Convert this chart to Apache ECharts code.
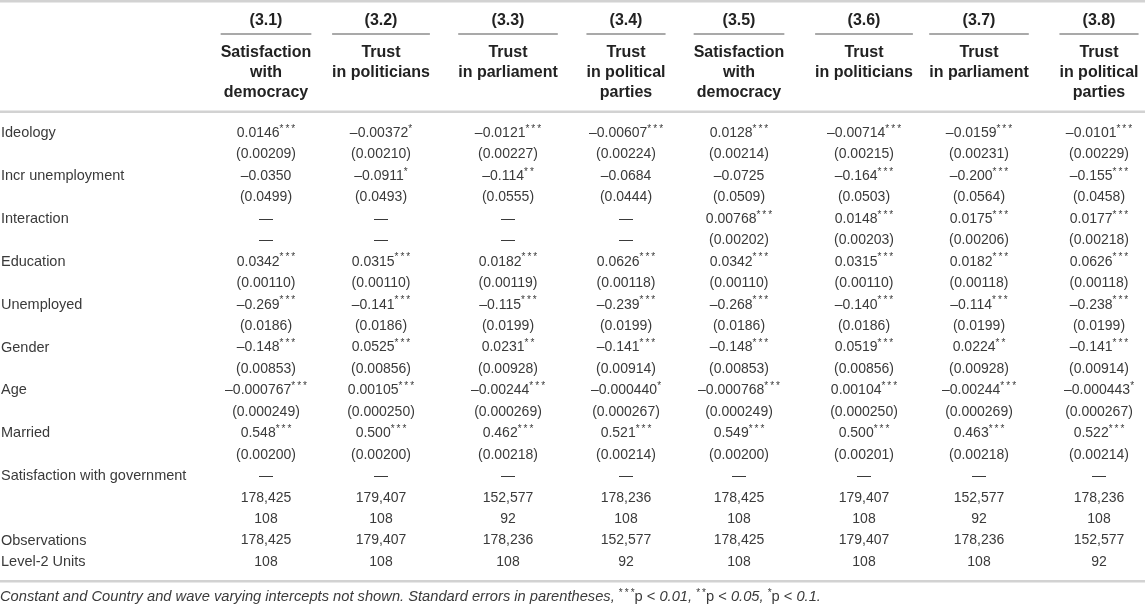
<!DOCTYPE html>
<html><head><meta charset="utf-8">
<script src="https://cdn.jsdelivr.net/npm/echarts@6/dist/echarts.min.js"></script>
<style>html,body{margin:0;padding:0;background:#fff}#c{width:1145px;height:606px}</style>
</head><body><div id="c"></div>
<script>
// ---------- data ----------
const rowLabels = ['Ideology','','Incr unemployment','','Interaction','','Education','','Unemployed','',
  'Gender','','Age','','Married','','Satisfaction with government','','','Observations','Level-2 Units'];
const colNumbers = ['(3.1)','(3.2)','(3.3)','(3.4)','(3.5)','(3.6)','(3.7)','(3.8)'];
const colTitles = ['Satisfaction\nwith\ndemocracy','Trust\nin politicians','Trust\nin parliament','Trust\nin political\nparties',
  'Satisfaction\nwith\ndemocracy','Trust\nin politicians','Trust\nin parliament','Trust\nin political\nparties'];
const m31 = ['0.0146***','(0.00209)','–0.0350','(0.0499)','—','—','0.0342***','(0.00110)','–0.269***','(0.0186)','–0.148***','(0.00853)','–0.000767***','(0.000249)','0.548***','(0.00200)','—','178,425','108','178,425','108'];
const m32 = ['–0.00372*','(0.00210)','–0.0911*','(0.0493)','—','—','0.0315***','(0.00110)','–0.141***','(0.0186)','0.0525***','(0.00856)','0.00105***','(0.000250)','0.500***','(0.00200)','—','179,407','108','179,407','108'];
const m33 = ['–0.0121***','(0.00227)','–0.114**','(0.0555)','—','—','0.0182***','(0.00119)','–0.115***','(0.0199)','0.0231**','(0.00928)','–0.00244***','(0.000269)','0.462***','(0.00218)','—','152,577','92','178,236','108'];
const m34 = ['–0.00607***','(0.00224)','–0.0684','(0.0444)','—','—','0.0626***','(0.00118)','–0.239***','(0.0199)','–0.141***','(0.00914)','–0.000440*','(0.000267)','0.521***','(0.00214)','—','178,236','108','152,577','92'];
const m35 = ['0.0128***','(0.00214)','–0.0725','(0.0509)','0.00768***','(0.00202)','0.0342***','(0.00110)','–0.268***','(0.0186)','–0.148***','(0.00853)','–0.000768***','(0.000249)','0.549***','(0.00200)','—','178,425','108','178,425','108'];
const m36 = ['–0.00714***','(0.00215)','–0.164***','(0.0503)','0.0148***','(0.00203)','0.0315***','(0.00110)','–0.140***','(0.0186)','0.0519***','(0.00856)','0.00104***','(0.000250)','0.500***','(0.00201)','—','179,407','108','179,407','108'];
const m37 = ['–0.0159***','(0.00231)','–0.200***','(0.0564)','0.0175***','(0.00206)','0.0182***','(0.00118)','–0.114***','(0.0199)','0.0224**','(0.00928)','–0.00244***','(0.000269)','0.463***','(0.00218)','—','152,577','92','178,236','108'];
const m38 = ['–0.0101***','(0.00229)','–0.155***','(0.0458)','0.0177***','(0.00218)','0.0626***','(0.00118)','–0.238***','(0.0199)','–0.141***','(0.00914)','–0.000443*','(0.000267)','0.522***','(0.00214)','—','178,236','108','152,577','92'];
const models = [m31,m32,m33,m34,m35,m36,m37,m38];
const footnote = 'Constant and Country and wave varying intercepts not shown. Standard errors in parentheses, ';

// ---------- layout ----------
const W = 1145;
const colCenters = [266, 381, 508, 626, 739, 864, 979, 1099];
const FONT = '"Liberation Sans", Arial, Helvetica, sans-serif';
const FS = 14;      // body cells
const FS_LAB = 14.5; // row labels
const FS_HEAD = 16;  // header
const TEXT = '#3a3a3a';
const HEAD = '#222';

const measureCtx = document.createElement('canvas').getContext('2d');
function textWidth(s) {
  measureCtx.font = 'bold ' + FS_HEAD + 'px ' + FONT;
  return measureCtx.measureText(s).width;
}

const RICH = {
  n: {fontSize: FS, fontFamily: FONT, fill: TEXT, lineHeight: 18},
  s: {fontSize: 10, fontFamily: FONT, fill: TEXT, lineHeight: 18, verticalAlign: 'top'}
};
function stars(st) { return st.split('').join('\u2009'); }
function toRich(t) {
  const m = t.match(/^(.*?)(\*+)$/);
  return m ? '{n|' + m[1] + '}{s|' + stars(m[2]) + '}' : '{n|' + t + '}';
}

const bodyCells = [];
models.forEach((col, c) => col.forEach((txt, r) => bodyCells.push({c, r, txt})));

const chart = echarts.init(document.getElementById('c'), null, {renderer: 'canvas'});
chart.setOption({
  animation: false,
  backgroundColor: '#fff',
  grid: [
    {left: 0, right: 0, top: 122.3, height: 450.5},
    {left: 0, right: 0, top: 5, height: 64}
  ],
  xAxis: [
    {type: 'value', min: 0, max: W, show: false, gridIndex: 0},
    {type: 'value', min: 0, max: W, show: false, gridIndex: 1}
  ],
  yAxis: [
    {type: 'category', data: rowLabels.map((l, i) => 'r' + i), inverse: true, show: false, gridIndex: 0},
    {type: 'category', data: ['number', 'title'], inverse: true, show: false, gridIndex: 1}
  ],
  graphic: [
    {type: 'rect', shape: {x: 0, y: 0, width: W, height: 2.5}, style: {fill: '#d2d2d2'}, silent: true},
    {type: 'rect', shape: {x: 0, y: 110.5, width: W, height: 2.5}, style: {fill: '#d2d2d2'}, silent: true},
    {type: 'rect', shape: {x: 0, y: 580, width: W, height: 2.5}, style: {fill: '#d2d2d2'}, silent: true},
    {type: 'text', left: 0, top: 588, silent: true,
      style: {
        text: '{i|' + footnote + '}{s|' + stars('***') + '}{u|p < }{i|0.01, }{s|' + stars('**') + '}{u|p < }{i|0.05, }{s|*}{u|p < }{i|0.1.}',
        rich: {
          i: {fontSize: 14.7, fontStyle: 'italic', fontFamily: FONT, fill: TEXT, lineHeight: 18},
          u: {fontSize: 14.7, fontFamily: FONT, fill: TEXT, lineHeight: 18},
          s: {fontSize: 10, fontFamily: FONT, fill: TEXT, lineHeight: 18, verticalAlign: 'top'}
        }
      }}
  ],
  series: [
    { // row labels
      type: 'custom', xAxisIndex: 0, yAxisIndex: 0, silent: true, clip: false,
      data: rowLabels.map((l, i) => [1, i]),
      renderItem: (params, api) => {
        const p = api.coord([api.value(0), api.value(1)]);
        return {type: 'text', x: p[0], y: p[1],
          style: {text: rowLabels[params.dataIndex], fill: TEXT, font: 'normal ' + FS_LAB + 'px ' + FONT,
            align: 'left', verticalAlign: 'middle'}};
      }
    },
    { // body cells
      type: 'custom', xAxisIndex: 0, yAxisIndex: 0, silent: true, clip: false,
      data: bodyCells.map(d => [colCenters[d.c], d.r]),
      renderItem: (params, api) => {
        const d = bodyCells[params.dataIndex];
        const p = api.coord([api.value(0), api.value(1)]);
        return {type: 'text', x: p[0], y: p[1],
          style: {text: toRich(d.txt), rich: RICH, align: 'center', verticalAlign: 'middle'}};
      }
    },
    { // header: model numbers + underline
      type: 'custom', xAxisIndex: 1, yAxisIndex: 1, silent: true, clip: false,
      data: colNumbers.map((n, c) => [colCenters[c], 0]),
      renderItem: (params, api) => {
        const c = params.dataIndex;
        const p = api.coord([api.value(0), api.value(1)]);
        const w = Math.max.apply(null, colTitles[c].split('\n').map(textWidth));
        return {type: 'group', children: [
          {type: 'text', x: p[0], y: p[1],
            style: {text: colNumbers[c], fill: HEAD, font: 'bold ' + FS_HEAD + 'px ' + FONT, align: 'center', verticalAlign: 'middle'}},
          {type: 'rect', shape: {x: p[0] - w / 2, y: p[1] + 12.5, width: w, height: 1}, style: {fill: '#555'}}
        ]};
      }
    },
    { // header: titles
      type: 'custom', xAxisIndex: 1, yAxisIndex: 1, silent: true, clip: false,
      data: colTitles.map((t, c) => [colCenters[c], 1]),
      renderItem: (params, api) => {
        const p = api.coord([api.value(0), api.value(1)]);
        return {type: 'text', x: p[0], y: p[1] - 10,
          style: {text: colTitles[params.dataIndex], fill: HEAD, font: 'bold ' + FS_HEAD + 'px ' + FONT,
            lineHeight: 20, align: 'center', verticalAlign: 'top'}};
      }
    }
  ]
});
</script></body></html>
